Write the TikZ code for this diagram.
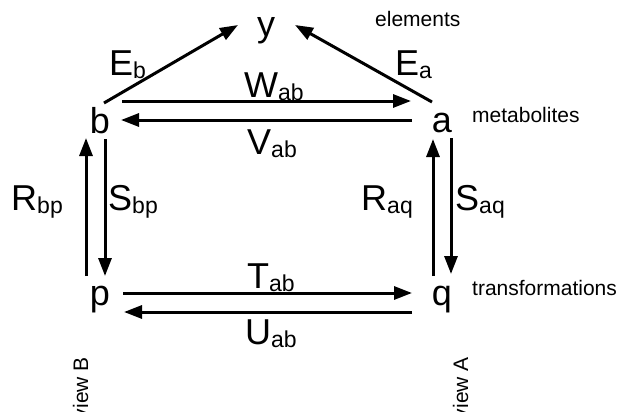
\documentclass[tikz,border=0pt]{standalone}
\usepackage{fontspec}
\setmainfont{Liberation Sans}
\usetikzlibrary{arrows.meta}
\newcommand\subtx[1]{\raisebox{-3.5pt}{\fontsize{23}{23}\selectfont #1}}
\begin{document}
\begin{tikzpicture}[x=1pt,y=-1pt,
  big/.style={font=\fontsize{36}{36}\selectfont, inner sep=0pt, anchor=base},
  small/.style={font=\fontsize{21}{21}\selectfont, inner sep=0pt, anchor=base west},
  vert/.style={font=\fontsize{21}{21}\selectfont, inner sep=0pt, rotate=90, anchor=base east},
  arr/.style={line width=3pt, -{Triangle[length=18pt,width=13pt]}}]
\useasboundingbox (0,0) rectangle (621,412);
% vertices
\node[big] (y) at (266,37) {y};
\node[big] (b) at (100,133) {b};
\node[big] (a) at (442,132) {a};
\node[big] (p) at (100,305) {p};
\node[big] (q) at (442,305) {q};
% side labels
\node[small] (el) at (375,27) {elements};
\node[small] (me) at (472,122) {metabolites};
\node[small] (tr) at (472,295) {transformations};
\node[vert] (vb) at (88,357) {view B};
\node[vert] (va) at (468,357) {view A};
% arrow labels
\node[big, anchor=base west] (Eb) at (109,75) {E\subtx{b}};
\node[big, anchor=base west] (Ea) at (395,75) {E\subtx{a}};
\node[big] (W) at (274,97) {W\subtx{ab}};
\node[big] (V) at (272,154) {V\subtx{ab}};
\node[big] (T) at (271,288) {T\subtx{ab}};
\node[big] (U) at (271,344) {U\subtx{ab}};
\node[big, anchor=base east] (R1) at (63,210) {R\subtx{bp}};
\node[big, anchor=base west] (S1) at (108,210) {S\subtx{bp}};
\node[big, anchor=base east] (R2) at (413,210) {R\subtx{aq}};
\node[big, anchor=base west] (S2) at (455,210) {S\subtx{aq}};
% connector end points
\coordinate (eb1) at (104,103); \coordinate (eb2) at (238,25);
\coordinate (ea1) at (432,102); \coordinate (ea2) at (295,25);
\coordinate (w1) at (122,101); \coordinate (w2) at (411,101);
\coordinate (v1) at (412,120); \coordinate (v2) at (121,120);
\coordinate (r11) at (86,276); \coordinate (r12) at (86,138);
\coordinate (s11) at (105,139); \coordinate (s12) at (105,276);
\coordinate (r21) at (433,276); \coordinate (r22) at (433,139);
\coordinate (s21) at (451,138); \coordinate (s22) at (451,274);
\coordinate (t1) at (123,293); \coordinate (t2) at (412,293);
\coordinate (u1) at (412,312); \coordinate (u2) at (124,312);
% connectors
\draw[arr] (eb1) -- (eb2);
\draw[arr] (ea1) -- (ea2);
\draw[arr] (w1) -- (w2);
\draw[arr] (v1) -- (v2);
\draw[arr] (r11) -- (r12);
\draw[arr] (s11) -- (s12);
\draw[arr] (r21) -- (r22);
\draw[arr] (s21) -- (s22);
\draw[arr] (t1) -- (t2);
\draw[arr] (u1) -- (u2);
\end{tikzpicture}
\end{document}
